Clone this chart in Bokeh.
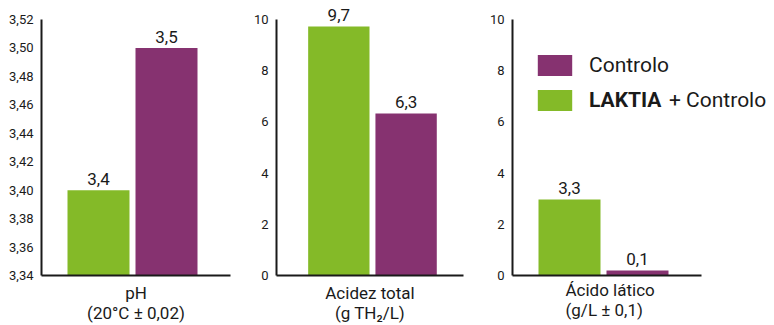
from bokeh.plotting import figure
from bokeh.layouts import row
from bokeh.models import Range1d, FixedTicker, ColumnDataSource, Legend, LegendItem, Title
from bokeh.core.properties import value
from bokeh.embed import file_html
from bokeh.resources import INLINE

# ---- data ----
series = ["LAKTIA + Controlo", "Controlo"]
colors = ["#84BA28", "#863270"]

ph_values = [3.40, 3.50]
ph_labels = ["3,4", "3,5"]
ph_ticks = [3.34, 3.36, 3.38, 3.40, 3.42, 3.44, 3.46, 3.48, 3.50, 3.52]
ph_tick_labels = ["3,34", "3,36", "3,38", "3,40", "3,42", "3,44", "3,46", "3,48", "3,50", "3,52"]

acidez_values = [9.73, 6.33]
acidez_labels = ["9,7", "6,3"]

latico_values = [2.97, 0.2]
latico_labels = ["3,3", "0,1"]

ticks_0_10 = [0, 2, 4, 6, 8, 10]
tick_labels_0_10 = ["0", "2", "4", "6", "8", "10"]

titles = ["pH\n(20°C ± 0,02)", "Acidez total\n(g TH₂/L)", "Ácido lático\n(g/L ± 0,1)"]

FONT = "Roboto"
TXT = "#1a1a1a"
PX_PER_BAR = 68.0
AXIS_W = 189.0
TOP_PAD = 19.0
AXIS_H = 256.0


def panel(vals, labels, ylo, yhi, ticks, tlabels, title, x_start, width, bl, br, frame_w,
          title_offset=None):
    ytop = yhi + (yhi - ylo) * TOP_PAD / AXIS_H
    p = figure(width=width, height=325, output_backend="svg", toolbar_location=None,
               x_range=Range1d(x_start, x_start + frame_w / PX_PER_BAR), y_range=Range1d(ylo, ytop),
               min_border_left=bl, min_border_right=br, min_border_top=0, min_border_bottom=50)
    p.outline_line_color = None
    p.xgrid.grid_line_color = None
    p.ygrid.grid_line_color = None
    src = ColumnDataSource(dict(x=[0, 1], top=vals, color=colors, label=labels, name=series))
    r = p.vbar(x="x", top="top", bottom=ylo, width=62 / PX_PER_BAR, fill_color="color",
               line_color=None, source=src)
    p.text(x="x", y="top", text="label", source=src, text_align="center", text_baseline="bottom",
           y_offset=-5, text_font=value(FONT), text_font_size="17px", text_color=TXT)
    # y axis
    ya = p.yaxis[0]
    ya.bounds = (ylo, yhi)
    ya.ticker = FixedTicker(ticks=ticks)
    ya.major_label_overrides = {t: l for t, l in zip(ticks, tlabels)}
    ya.major_tick_out = 0
    ya.major_tick_in = 0
    ya.minor_tick_out = 0
    ya.minor_tick_in = 0
    ya.axis_line_width = 2
    ya.axis_line_color = "#1a1a1a"
    ya.major_label_text_font = FONT
    ya.major_label_text_font_size = "13px"
    ya.major_label_text_color = TXT
    ya.major_label_standoff = 8
    # x axis
    xa = p.xaxis[0]
    xa.bounds = (x_start, x_start + AXIS_W / PX_PER_BAR)
    xa.ticker = FixedTicker(ticks=[])
    xa.major_tick_out = 0
    xa.minor_tick_out = 0
    xa.axis_line_width = 2
    xa.axis_line_color = "#1a1a1a"
    if title_offset is None:
        xa.axis_label = title
        xa.axis_label_standoff = 7
        xa.axis_label_text_font = FONT
        xa.axis_label_text_font_size = "17px"
        xa.axis_label_text_font_style = "normal"
        xa.axis_label_text_color = TXT
        xa.axis_label_text_line_height = 1.0
    else:
        t = Title(text=title, align="left", offset=title_offset, standoff=4,
                  text_font=FONT, text_font_size="17px", text_font_style="normal",
                  text_color=TXT, text_line_height=1.0)
        p.add_layout(t, "below")
    return p, r


p1, r1 = panel(ph_values, ph_labels, 3.34, 3.52, ph_ticks, ph_tick_labels, titles[0],
               -57 / PX_PER_BAR, 250, 41, 20, 189)
p2, r2 = panel(acidez_values, acidez_labels, 0, 10, ticks_0_10, tick_labels_0_10, titles[1],
               -63 / PX_PER_BAR, 225, 24, 12, 189)
p3, r3 = panel(latico_values, latico_labels, 0, 10, ticks_0_10, tick_labels_0_10, titles[2],
               -57 / PX_PER_BAR, 299, 37, 0, 262, title_offset=53)


def make_legend(items, loc, bold=False, glyph_w=43, standoff=13):
    lg = Legend(items=items, location=loc)
    lg.padding = 0
    lg.margin = 0
    lg.spacing = 9
    lg.border_line_color = None
    lg.background_fill_alpha = 0
    lg.glyph_width = glyph_w
    lg.glyph_height = 26
    lg.label_height = 26
    lg.label_standoff = standoff
    lg.label_text_font = FONT
    lg.label_text_font_size = "21px"
    lg.label_text_font_style = "bold" if bold else "normal"
    lg.label_text_color = TXT
    lg.label_text_baseline = "middle"
    return lg


brand, rest = series[0].split(" ", 1)
leg_ctrl = make_legend([LegendItem(label=series[1], renderers=[r3], index=1)], (21, 197))
leg_brand = make_legend([LegendItem(label=brand, renderers=[r3], index=0)], (21, 162), bold=True)
leg_rest = make_legend([LegendItem(label=rest, renderers=[r3], index=0)], (157, 162),
                       glyph_w=0, standoff=0)
for lg in (leg_ctrl, leg_brand, leg_rest):
    p3.add_layout(lg, "center")

layout = row(p1, p2, p3)
layout.spacing = 0
open("out.html", "w").write(file_html(layout, INLINE))
